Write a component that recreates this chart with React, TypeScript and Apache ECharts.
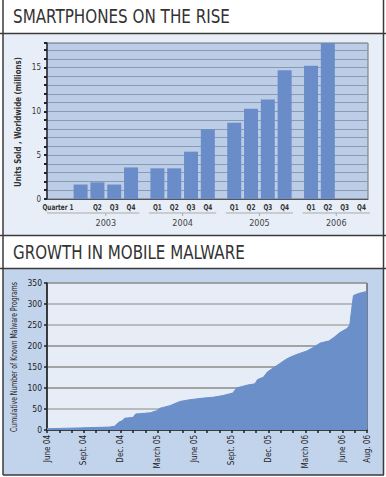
import React, { useEffect, useRef } from 'react';
import * as echarts from 'echarts';

// ---------- Chart 1: smartphones ----------
const years = ['2003', '2004', '2005', '2006'];
const quarterLabels = ['Quarter 1', 'Q2', 'Q3', 'Q4', 'Q1', 'Q2', 'Q3', 'Q4', 'Q1', 'Q2', 'Q3', 'Q4', 'Q1', 'Q2', 'Q3', 'Q4'];
const smartphoneUnits: (number | null)[] = [1.65, 1.9, 1.65, 3.6, 3.5, 3.5, 5.4, 7.95, 8.7, 10.3, 11.35, 14.7, 15.2, 17.8, null, null];
const unitTickLabels = ['0', '5', '10', '15'];

// ---------- Chart 2: malware (x = months since June 2004) ----------
const malwareMonths = [0, 2.7, 5.1, 5.5, 5.8, 6.1, 6.3, 7.0, 7.2, 8.4, 8.9, 9.2, 10.0, 10.4, 10.8, 11.6, 12.7, 13.5, 14.3, 15.1, 15.4, 16.3, 16.9, 17.1, 17.6, 17.9, 18.4, 18.9, 19.4, 19.8, 20.3, 21.1, 21.6, 22.2, 22.9, 23.3, 23.8, 24.4, 24.6, 24.8, 24.9, 25.3, 26.0];
const malwareCounts = [3, 5, 7, 9, 18, 22, 28, 30, 38, 41, 46, 52, 58, 63, 68, 72, 76, 78, 82, 88, 100, 107, 110, 120, 126, 138, 148, 158, 168, 174, 180, 188, 196, 207, 212, 220, 232, 242, 250, 298, 320, 325, 330];
const monthTicks = [0, 3, 6, 9, 12, 15, 18, 21, 24, 26];
const monthTickLabels = ['June 04', 'Sept. 04', 'Dec. 04', 'March 05', 'June 05', 'Sept. 05', 'Dec. 05', 'March 06', 'June 06', 'Aug. 06'];

const titles = ['SMARTPHONES ON THE RISE', 'GROWTH IN MOBILE MALWARE'];
const axisNames = ['Units Sold , Worldwide (millions)', 'Cumulative Number of Known Malware Programs'];

const COND = "'DejaVu Sans Condensed', 'Liberation Sans Narrow', 'DejaVu Sans', sans-serif";
const TITLE_FONT = "'DejaVu Sans Condensed', 'DejaVu Sans', sans-serif";

// layout of the quarter slots on chart 1 (in slot units)
const FIRST = 2.0;
const STRIDE = 4.57;
const X_MAX = 19.1;
const xPos = (i: number) => FIRST + Math.floor(i / 4) * STRIDE + (i % 4);

function measure(text: string, font: string) {
  const ctx = document.createElement('canvas').getContext('2d');
  if (!ctx) return 200;
  ctx.font = font;
  return ctx.measureText(text).width;
}

export default function App() {
  const ref = useRef<HTMLDivElement>(null);
  useEffect(() => {
    if (!ref.current) return;
    const chart = echarts.init(ref.current, undefined, { renderer: 'svg' });

    const tSize = 19;
    const w1 = measure(titles[0], `${tSize}px ${TITLE_FONT}`);
    const w2 = measure(titles[1], `${tSize}px ${TITLE_FONT}`);
    const n1 = measure(axisNames[0], `bold 9px ${COND}`);
    const n2 = measure(axisNames[1], `9.5px ${COND}`);

    const barData = smartphoneUnits
      .map((v, i) => (v == null ? null : [xPos(i), v]))
      .filter((d) => d !== null);

    const yearData = years.map((y, g) => {
      const start = FIRST + g * STRIDE;
      return { name: y, value: [start + 1.5, g === 0 ? 0 : start - 0.5, start + 3.5] };
    });

    const option: any = {
      animation: false,
      graphic: [
        { type: 'rect', z: -10, shape: { x: 0, y: 0, width: 386, height: 477 }, style: { fill: '#ffffff' } },
        { type: 'rect', z: -9, shape: { x: 3, y: 34, width: 380, height: 201 }, style: { fill: '#e8eef7' } },
        { type: 'rect', z: -9, shape: { x: 3, y: 269, width: 380, height: 206 }, style: { fill: '#c2d3ec' } },
        { type: 'line', z: 100, shape: { x1: 3, y1: 0, x2: 3, y2: 475 }, style: { stroke: '#3a3a3a', lineWidth: 1.5 } },
        { type: 'line', z: 100, shape: { x1: 383.5, y1: 0, x2: 383.5, y2: 475 }, style: { stroke: '#3a3a3a', lineWidth: 1.5 } },
        { type: 'line', z: 100, shape: { x1: 0, y1: 33.5, x2: 386, y2: 33.5 }, style: { stroke: '#3a3a3a', lineWidth: 1.5 } },
        { type: 'line', z: 100, shape: { x1: 0, y1: 235.5, x2: 386, y2: 235.5 }, style: { stroke: '#3a3a3a', lineWidth: 1.5 } },
        { type: 'line', z: 100, shape: { x1: 0, y1: 268.5, x2: 386, y2: 268.5 }, style: { stroke: '#3a3a3a', lineWidth: 1.5 } },
        { type: 'line', z: 100, shape: { x1: 3, y1: 475, x2: 384, y2: 475 }, style: { stroke: '#3a3a3a', lineWidth: 1.5 } },
        {
          type: 'text', z: 100, x: 13, y: 16, scaleX: 217 / w1,
          style: { text: titles[0], x: 0, y: 0, fontSize: tSize, fontFamily: TITLE_FONT, fill: '#333', verticalAlign: 'middle', align: 'left' },
        },
        {
          type: 'text', z: 100, x: 13, y: 252, scaleX: 232 / w2,
          style: { text: titles[1], x: 0, y: 0, fontSize: tSize, fontFamily: TITLE_FONT, fill: '#333', verticalAlign: 'middle', align: 'left' },
        },
        {
          type: 'text', z: 100, x: 18, y: 122, rotation: Math.PI / 2, scaleX: 130 / n1,
          style: { text: axisNames[0], x: 0, y: 0, fontSize: 9, fontWeight: 'bold', fontFamily: COND, fill: '#333', verticalAlign: 'middle', align: 'center' },
        },
        {
          type: 'text', z: 100, x: 14, y: 357, rotation: Math.PI / 2, scaleX: 150 / n2,
          style: { text: axisNames[1], x: 0, y: 0, fontSize: 9.5, fontFamily: COND, fill: '#2a2a2a', verticalAlign: 'middle', align: 'center' },
        },
      ],
      grid: [
        { left: 47, top: 43, width: 321, height: 156, show: true, backgroundColor: '#bccde8', borderColor: '#707070', borderWidth: 1 },
        { left: 47, top: 283, width: 320, height: 147, show: true, backgroundColor: '#e6edf6', borderColor: '#2a2a2a', borderWidth: 1 },
      ],
      xAxis: [
        {
          gridIndex: 0, type: 'value', min: 0, max: X_MAX,
          axisLine: { show: true, lineStyle: { color: '#555', width: 1 } },
          axisTick: { show: false }, axisLabel: { show: false }, splitLine: { show: false },
        },
        {
          gridIndex: 1, type: 'value', min: 0, max: 26, interval: 1,
          axisLine: { show: true, lineStyle: { color: '#222', width: 1.5 } },
          axisTick: { show: true, length: 3, lineStyle: { color: '#222', width: 1.5 } },
          splitLine: { show: false },
          axisLabel: {
            rotate: 90, fontSize: 8, color: '#222', fontFamily: COND, margin: 5,
            formatter: (v: number) => {
              const k = monthTicks.indexOf(v);
              return k >= 0 ? monthTickLabels[k] : '';
            },
          },
        },
      ],
      yAxis: [
        {
          gridIndex: 0, type: 'value', min: 0, max: 17.8, interval: 1,
          axisLine: { show: true, lineStyle: { color: '#2a2a3a', width: 1.5 } },
          axisTick: { show: true, length: 3, lineStyle: { color: '#222', width: 2 } },
          splitLine: { show: true, lineStyle: { color: '#8c9ab0', width: 1 } },
          axisLabel: {
            fontSize: 8, color: '#333', fontFamily: COND, margin: 6,
            formatter: (v: number) => (unitTickLabels.includes(String(v)) ? String(v) : ''),
          },
        },
        {
          gridIndex: 1, type: 'value', min: 0, max: 350, interval: 50,
          axisLine: { show: true, lineStyle: { color: '#222', width: 1.5 } },
          axisTick: { show: true, length: 3, lineStyle: { color: '#222', width: 1.5 } },
          splitLine: { show: true, lineStyle: { color: ['#999', '#a8a8a8', '#8a8a8a', '#8a8a8a', '#8a8a8a', '#a8a8a8', '#a8a8a8', '#a8a8a8'], width: 1.5 } },
          axisLabel: { fontSize: 8.5, color: '#222', fontFamily: COND, margin: 5 },
        },
      ],
      series: [
        {
          type: 'bar', xAxisIndex: 0, yAxisIndex: 0, data: barData, barWidth: 14,
          itemStyle: { color: '#6a8dc9' }, silent: true,
        },
        {
          type: 'custom', xAxisIndex: 0, yAxisIndex: 0, clip: false, silent: true, z: 5,
          data: quarterLabels.map((l, i) => ({ name: l, value: [xPos(i), 0] })),
          renderItem: (params: any, api: any) => {
            const p = api.coord([api.value(0), 0]);
            const first = params.dataIndex === 0;
            return {
              type: 'text', x: p[0] + (first ? -7 : 0), y: p[1] + 8, scaleX: 0.8,
              style: {
                text: quarterLabels[params.dataIndex], x: 0, y: 0,
                align: first ? 'right' : 'center', verticalAlign: 'middle',
                fontSize: 8, fontWeight: 'bold', fontFamily: COND, fill: '#333',
              },
            };
          },
        },
        {
          type: 'custom', xAxisIndex: 0, yAxisIndex: 0, clip: false, silent: true, z: 5,
          data: yearData,
          renderItem: (params: any, api: any) => {
            const c = api.coord([api.value(0), 0]);
            const s = api.coord([api.value(1), 0]);
            const e = api.coord([api.value(2), 0]);
            const y = c[1] + 14;
            return {
              type: 'group',
              children: [
                { type: 'line', shape: { x1: s[0], y1: y, x2: e[0], y2: y }, style: { stroke: '#a9a9a9', lineWidth: 1 } },
                { type: 'line', shape: { x1: c[0], y1: y, x2: c[0], y2: y + 3 }, style: { stroke: '#a9a9a9', lineWidth: 1 } },
                {
                  type: 'text', x: c[0], y: y + 10,
                  style: { text: years[params.dataIndex], x: 0, y: 0, align: 'center', verticalAlign: 'middle', fontSize: 9, fontFamily: COND, fill: '#444' },
                },
              ],
            };
          },
        },
        {
          type: 'line', xAxisIndex: 1, yAxisIndex: 1, silent: true, showSymbol: false,
          data: malwareMonths.map((m, i) => [m, malwareCounts[i]]),
          lineStyle: { color: '#6a8fc9', width: 1 },
          areaStyle: { color: '#6a8fc9', opacity: 1 },
        },
      ],
    };
    chart.setOption(option);
    return () => chart.dispose();
  }, []);
  return <div ref={ref} style={{ position: 'absolute', left: 0, top: 0, width: 386, height: 477 }} />;
}
